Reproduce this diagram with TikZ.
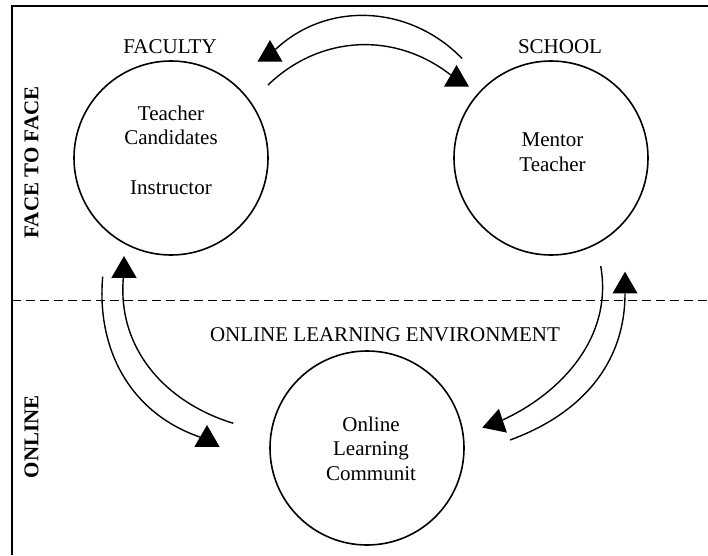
\documentclass[tikz,border=0pt]{standalone}
\usepackage{fontspec}
\setmainfont{Liberation Serif}
\usetikzlibrary{shapes.geometric}
\begin{document}
\begin{tikzpicture}[x=1pt,y=1pt,
  circ/.style={draw, circle, line width=1.6pt, minimum size=194pt, inner sep=0pt, outer sep=0pt},
  txt/.style={anchor=base, inner sep=0pt, font=\fontsize{21}{25}\selectfont},
  sidelabel/.style={inner sep=0pt, rotate=90, font=\fontsize{21}{25}\selectfont\bfseries},
  head/.style={regular polygon, regular polygon sides=3, fill=black, inner sep=0pt, outer sep=0pt, minimum size=29pt},
  conn/.style={line width=1.4pt},
  frameline/.style={line width=2pt},
]
\useasboundingbox (0,0) rectangle (708,555);

% frame and divider
\coordinate (ftr) at (708,549);
\coordinate (ftl) at (12,549);
\coordinate (fbl) at (12,0);
\draw[frameline] (ftr) -- (ftl) -- (fbl);
\coordinate (dl) at (12,254.3);
\coordinate (dr) at (708,254.3);
\draw[line width=1.5pt, dash pattern=on 9pt off 5pt] (dl) -- (dr);

% side labels
\node[sidelabel] (ftf) at (31.5,392.5) {FACE TO FACE};
\node[sidelabel] (onl) at (31.5,118.3) {ONLINE};

% circles
\node[circ] (fac) at (171,397) {};
\node[circ] (sch) at (551,397) {};
\node[circ] (olc) at (367,107) {};

% labels
\node[txt] (facl) at (170,501) {FACULTY};
\node[txt] (schl) at (560,501) {SCHOOL};
\node[txt] (olel) at (385,213.3) {ONLINE LEARNING ENVIRONMENT};

\node[txt] (f1) at (171,434.3) {Teacher};
\node[txt] (f2) at (171,410) {Candidates};
\node[txt] (f3) at (171,360) {Instructor};

\node[txt] (s1) at (552.5,408) {Mentor};
\node[txt] (s2) at (552.5,383.3) {Teacher};

\node[txt] (o1) at (371,124) {Online};
\node[txt] (o2) at (371,99.3) {Learning};
\node[txt] (o3) at (371,75) {Communit};

% arrowheads
\node[head] (t1) at (270,500.5) {};
\node[head] (t2) at (456.5,475.5) {};
\node[head] (t3) at (124,284.5) {};
\node[head] (t4) at (207,115.5) {};
\node[head, rotate=108.6] (t5) at (496,132) {};
\node[head] (t6) at (625,268.8) {};

% connector starts
\coordinate (a1) at (462,496.5);
\coordinate (b1) at (268,470);
\coordinate (c1) at (233.3,131.7);
\coordinate (d1) at (102.7,278.3);
\coordinate (e1) at (600.7,289);
\coordinate (f1s) at (510,115);

% connectors
\draw[conn] (a1) to[out=134, in=43] (t1);
\draw[conn] (b1) to[out=44, in=142] (t2);
\draw[conn] (c1) to[out=163, in=265] (t3);
\draw[conn] (d1) to[out=265, in=161] (t4);
\draw[conn] (e1) to[out=280, in=19] (t5);
\draw[conn] (f1s) to[out=20, in=270] (t6);
\end{tikzpicture}
\end{document}
